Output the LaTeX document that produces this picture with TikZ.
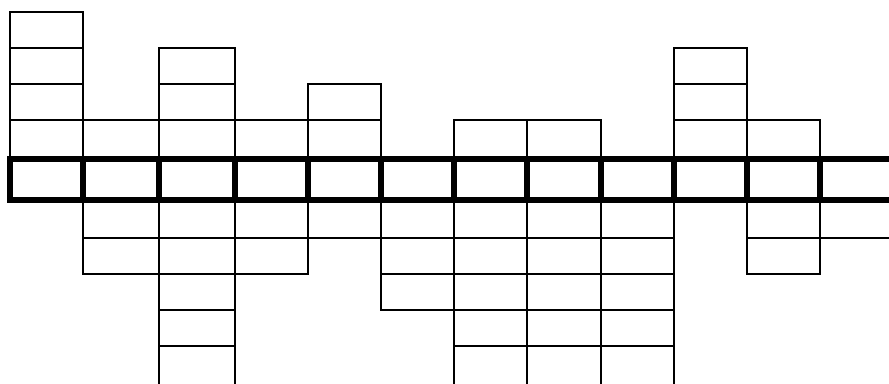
\documentclass[tikz,border=0pt]{standalone}
\usepackage{tikz}

\begin{document}
\begin{tikzpicture}[
  x=0.025cm, y=-0.025cm,
  cell/.style={draw, line width=1.4pt},
  strip/.style={draw, line width=4.3pt}
]
\useasboundingbox (0,0) rectangle (889,383);
\clip (0,0) rectangle (889,383);

\foreach \xa/\xb/\up/\down in {10/83/4/0, 83/159/1/2, 159/235/3/5, 235/308/1/2,
  308/381/2/1, 381/454/0/3, 454/527/1/5, 527/601/1/5, 601/674/0/5,
  674/747/3/0, 747/820/1/2, 820/910/0/1}{
  \ifnum\up>0
    \foreach \r in {1,...,\up}
      \draw[cell] (\xa,{\r==1 ? 159 : 192-36*\r}) rectangle (\xb,{156-36*\r});
  \fi
  \ifnum\down>0
    \foreach \r in {1,...,\down}
      \draw[cell] (\xa,{\r==1 ? 200 : 166+36*\r}) rectangle (\xb,{\r==5 ? 420 : 202+36*\r});
  \fi
}

\foreach \xa/\xb in {10/83, 83/159, 159/235, 235/308, 308/381, 381/454,
  454/527, 527/601, 601/674, 674/747, 747/820, 820/910}
  \draw[strip] (\xa,159) rectangle (\xb,200);

\end{tikzpicture}
\end{document}
